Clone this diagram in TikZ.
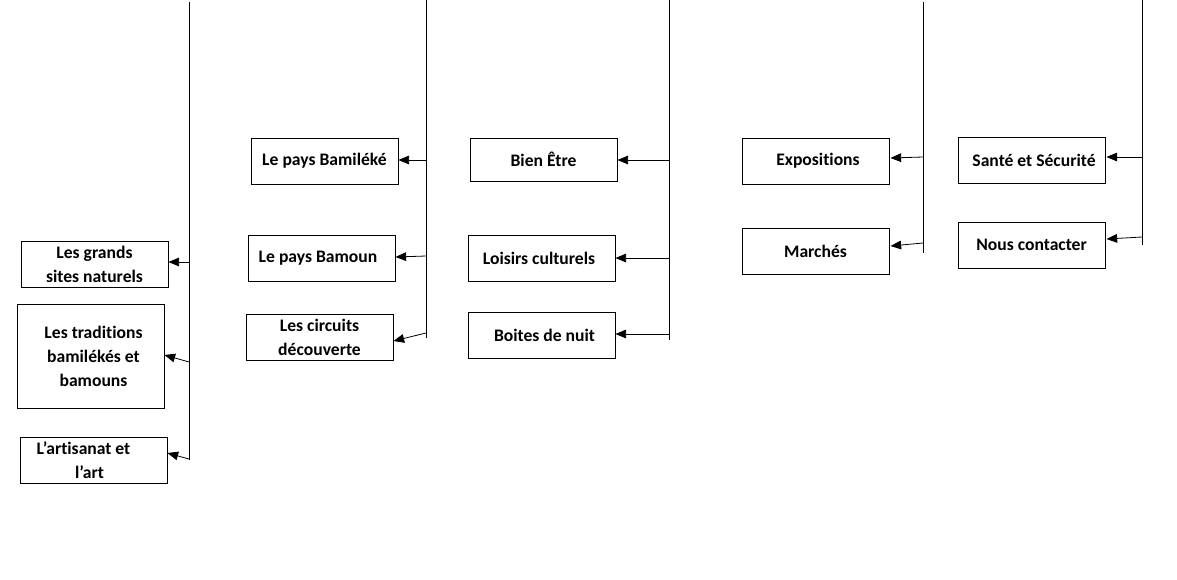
\documentclass[tikz,border=0pt]{standalone}
\usepackage{fontspec}
\setmainfont{Carlito}[Ligatures=NoCommon]
\usetikzlibrary{arrows.meta,calc}
\tikzset{
  box/.style={draw=black,line width=0.7pt,rectangle,inner sep=0pt,
    minimum width=110.25pt,minimum height=34.5pt,align=center,
    font=\fontsize{13.2pt}{18pt}\selectfont\bfseries},
  tall/.style={minimum height=78pt},
  trunk/.style={draw=black,line width=0.65pt},
  arr/.style={draw=black,line width=0.6pt,-{Triangle[length=8pt,width=6.5pt]}}
}
\begin{document}
\begin{tikzpicture}[x=0.75pt,y=-0.75pt]
\useasboundingbox (0,0) rectangle (1177,579);
% boxes
\node[box] (g1) at (94.5,264) {Les grands\\sites naturels};
\node[box,tall] (g2) at (90.5,356) {\hspace*{4.5pt}Les traditions\\\hspace*{4.5pt}bamilékés et\\\hspace*{4.5pt}bamouns};
\node[box] (g3) at (93.5,460) {L’artisanat et\hspace*{15pt}\\l’art\hspace*{6pt}};
\node[box] (b1) at (324.5,161) {Le pays Bamiléké};
\node[box] (b2) at (321.5,258) {Le pays Bamoun\hspace*{5.25pt}};
\node[box] (b3) at (319.5,337) {Les circuits\\découverte};
\node[box,minimum height=32.25pt] (c1) at (543.5,159.5) {Bien Être};
\node[box] (c2) at (541.5,258) {Loisirs culturels\hspace*{3.75pt}};
\node[box] (c3) at (541.5,335) {\hspace*{4.5pt}Boites de nuit};
\node[box] (d1) at (815.5,161) {\hspace*{3.75pt}Expositions};
\node[box] (d2) at (815.5,251) {Marchés};
\node[box] (e1) at (1031.5,160) {\hspace*{3.75pt}Santé et Sécurité};
\node[box] (e2) at (1031.5,245) {Nous contacter};
% trunks
\coordinate (v1t) at (189,2);   \coordinate (v1b) at (189,460);
\coordinate (v2t) at (426,0);   \coordinate (v2b) at (426,338);
\coordinate (v3t) at (669,0);   \coordinate (v3b) at (669,340);
\coordinate (v4t) at (923,2);   \coordinate (v4b) at (923,253);
\coordinate (v5t) at (1142,0);  \coordinate (v5b) at (1142,245);
\draw[trunk] (v1t) -- (v1b);
\draw[trunk] (v2t) -- (v2b);
\draw[trunk] (v3t) -- (v3b);
\draw[trunk] (v4t) -- (v4b);
\draw[trunk] (v5t) -- (v5b);
% branch points
\coordinate (a11) at (189,262); \coordinate (a12) at (189,362); \coordinate (a13) at (189,459);
\coordinate (a21) at (426,160); \coordinate (a22) at (426,256); \coordinate (a23) at (426,333);
\coordinate (a31) at (669,160); \coordinate (a32) at (669,258); \coordinate (a33) at (669,334);
\coordinate (a41) at (923,157); \coordinate (a42) at (923,243);
\coordinate (a51) at (1142,157); \coordinate (a52) at (1142,237);
% arrows
\draw[arr] (a11) -- ($(g1.east)+(0,-2)$);
\draw[arr] (a12) -- ($(g2.east)+(0,-1)$);
\draw[arr] (a13) -- ($(g3.east)+(0,-7)$);
\draw[arr] (a21) -- ($(b1.east)+(0,-1)$);
\draw[arr] (a22) -- ($(b2.east)+(0,-1)$);
\draw[arr] (a23) -- ($(b3.east)+(0,4)$);
\draw[arr] (a31) -- ($(c1.east)+(0,0.5)$);
\draw[arr] (a32) -- (c2.east);
\draw[arr] (a33) -- ($(c3.east)+(0,-1)$);
\draw[arr] (a41) -- ($(d1.east)+(1,-3)$);
\draw[arr] (a42) -- ($(d2.east)+(1,-5)$);
\draw[arr] (a51) -- ($(e1.east)+(1,-3)$);
\draw[arr] (a52) -- ($(e2.east)+(1,-6)$);
\end{tikzpicture}
\end{document}
